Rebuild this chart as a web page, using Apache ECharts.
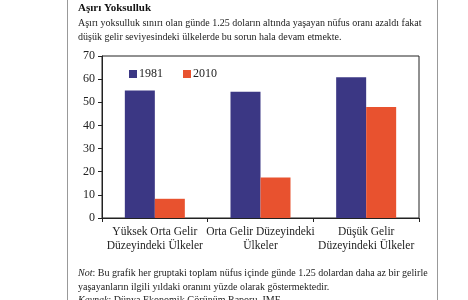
<!DOCTYPE html>
<html><head><meta charset="utf-8">
<script src="https://cdn.jsdelivr.net/npm/echarts@6/dist/echarts.min.js"></script>
<style>html,body{margin:0;padding:0;background:#fff}#c{width:468px;height:300px}</style>
</head><body><div id="c"></div>
<script>
const categories = ["Yüksek Orta Gelir\nDüzeyindeki Ülkeler", "Orta Gelir Düzeyindeki\nÜlkeler", "Düşük Gelir\nDüzeyindeki Ülkeler"];
const seriesNames = ["1981", "2010"];
const values1981 = [55.1, 54.6, 60.8];
const values2010 = [8.3, 17.5, 48.0];
const yTicks = [0, 10, 20, 30, 40, 50, 60, 70];
const titleText = "Aşırı Yoksulluk";
const introLines = ["Aşırı yoksulluk sınırı olan günde 1.25 doların altında yaşayan nüfus oranı azaldı fakat", "düşük gelir seviyesindeki ülkelerde bu sorun hala devam etmekte."];
const noteLines = ["Bu grafik her gruptaki toplam nüfus içinde günde 1.25 dolardan daha az bir gelirle", "yaşayanların ilgili yıldaki oranını yüzde olarak göstermektedir."];
const sourceLine = "Kaynak: Dünya Ekonomik Görünüm Raporu, IMF";

const serif = "'Liberation Serif', 'DejaVu Serif', serif";
const chart = echarts.init(document.getElementById('c'), null, {renderer: 'canvas'});
chart.setOption({
  backgroundColor: '#ffffff',
  animation: false,
  textStyle: {fontFamily: serif},
  grid: {left: 102, right: 49, top: 56, bottom: 82, show: true, borderColor: '#222', borderWidth: 1, backgroundColor: 'transparent'},
  legend: {
    data: seriesNames, left: 124, top: 63, itemWidth: 8, itemHeight: 8, itemGap: 20,
    icon: 'rect', textStyle: {fontFamily: serif, fontSize: 12, color: '#222', padding: [0,0,0,-3]}
  },
  xAxis: {
    type: 'category', data: categories,
    axisLine: {lineStyle: {color: '#222', width: 1}},
    axisTick: {show: true, length: 4, lineStyle: {color: '#222'}},
    axisLabel: {fontFamily: serif, fontSize: 11.5, color: '#222', lineHeight: 14, margin: 7, interval: 0}
  },
  yAxis: {
    type: 'value', min: 0, max: 70, interval: 10,
    axisLine: {show: true, lineStyle: {color: '#222', width: 1}},
    axisTick: {show: true, length: 4, lineStyle: {color: '#222'}},
    splitLine: {show: false},
    axisLabel: {fontFamily: serif, fontSize: 12, color: '#222', margin: 7,
      formatter: v => yTicks.includes(v) ? String(v) : ''}
  },
  series: [
    {name: seriesNames[0], type: 'bar', data: values1981, barWidth: 30, barGap: '0%', itemStyle: {color: '#3b3784'}},
    {name: seriesNames[1], type: 'bar', data: values2010, barWidth: 30, barGap: '0%', itemStyle: {color: '#e8522f'}}
  ],
  graphic: [
    {type: 'line', shape: {x1: 67.5, y1: 0, x2: 67.5, y2: 300}, style: {stroke: '#999', lineWidth: 1}},
    {type: 'line', shape: {x1: 437.5, y1: 0, x2: 437.5, y2: 300}, style: {stroke: '#999', lineWidth: 1}},
    {type: 'text', left: 78, top: 3, style: {text: titleText, font: "bold 11px " + serif, fill: '#111'}},
    {type: 'text', left: 78, top: 18, style: {text: introLines[0], font: "10px " + serif, fill: '#222'}},
    {type: 'text', left: 78, top: 32, style: {text: introLines[1], font: "10px " + serif, fill: '#222'}},
    {type: 'text', left: 78, top: 268, style: {rich: {i: {fontFamily: serif, fontStyle: 'italic', fontSize: 10, fill: '#222'}, n: {fontFamily: serif, fontSize: 10, fill: '#222'}}, text: "{i|Not}{n|: " + noteLines[0] + "}"}},
    {type: 'text', left: 78, top: 282, style: {text: noteLines[1], font: "10px " + serif, fill: '#222'}},
    {type: 'text', left: 78, top: 295, style: {rich: {i: {fontFamily: serif, fontStyle: 'italic', fontSize: 10, fill: '#222'}, n: {fontFamily: serif, fontSize: 10, fill: '#222'}}, text: "{i|Kaynak}{n|: " + sourceLine.replace('Kaynak: ', '') + "}"}}
  ]
});
</script></body></html>
